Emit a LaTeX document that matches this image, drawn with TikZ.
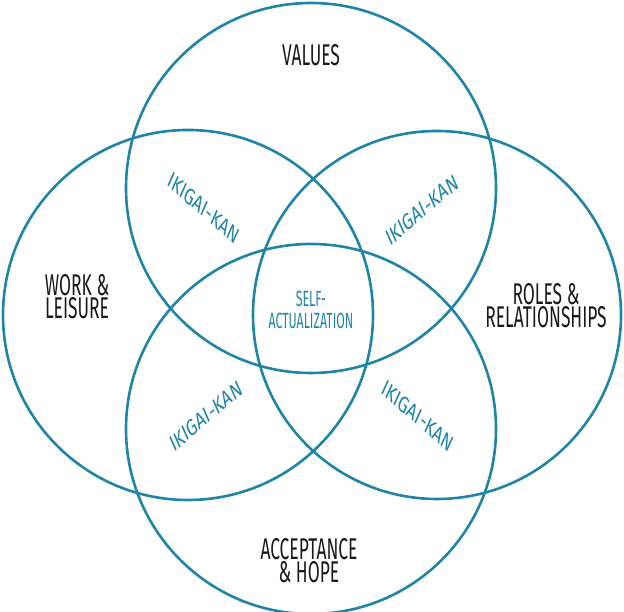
\documentclass[tikz,border=0pt]{standalone}
\usepackage{fontspec}
\setmainfont{Fira Sans}
\definecolor{ikiblue}{HTML}{1E85A6}
\definecolor{ikitext}{HTML}{1A1A1A}

\begin{document}
\begin{tikzpicture}[x=1pt, y=1pt,
  ring/.style={draw=ikiblue, line width=2.6pt},
  outer/.style={align=center, text=ikitext, inner sep=0pt, transform shape, xscale=0.58,
    font=\fontsize{30}{23}\selectfont},
  inner/.style={align=center, text=ikiblue, inner sep=0pt, transform shape, xscale=0.56,
    font=\fontsize{22}{22}\selectfont},
  slant/.style={text=ikiblue, inner sep=0pt, transform shape, xscale=0.72,
    font=\fontsize{23}{23}\selectfont}]
 	\useasboundingbox (0,0) rectangle (624,612);
 	% Circle centres
 	\coordinate (top) at (311, 424);
 	\coordinate (bot) at (311, 183);
 	\coordinate (lft) at (188, 297);
 	\coordinate (rgt) at (437, 297);
 	
 	% The four circles
 	\draw[ring] (top) circle (185);
 	\draw[ring] (bot) circle (185);
 	\draw[ring] (lft) circle (185);
 	\draw[ring] (rgt) circle (184);
 	
 	% Outer labels
 	\node[outer] (values) at (311, 557) {VALUES};
 	\node[outer] (work)   at (77, 315)  {WORK \&\\LEISURE};
 	\node[outer] (roles)  at (546, 306) {ROLES \&\\RELATIONSHIPS};
 	\node[outer] (hope)   at (309, 51)  {ACCEPTANCE\\\& HOPE};
 	
 	% Overlaps
 	\node[inner] (self) at (311, 302) {SELF-\\ACTUALIZATION};
 	\node[slant, rotate=-32] (ik1) at (204, 404) {IKIGAI-KAN};
 	\node[slant, rotate=32]  (ik2) at (422, 402) {IKIGAI-KAN};
 	\node[slant, rotate=32]  (ik3) at (206, 196) {IKIGAI-KAN};
 	\node[slant, rotate=-32] (ik4) at (418, 196) {IKIGAI-KAN};
\end{tikzpicture}
\end{document}
